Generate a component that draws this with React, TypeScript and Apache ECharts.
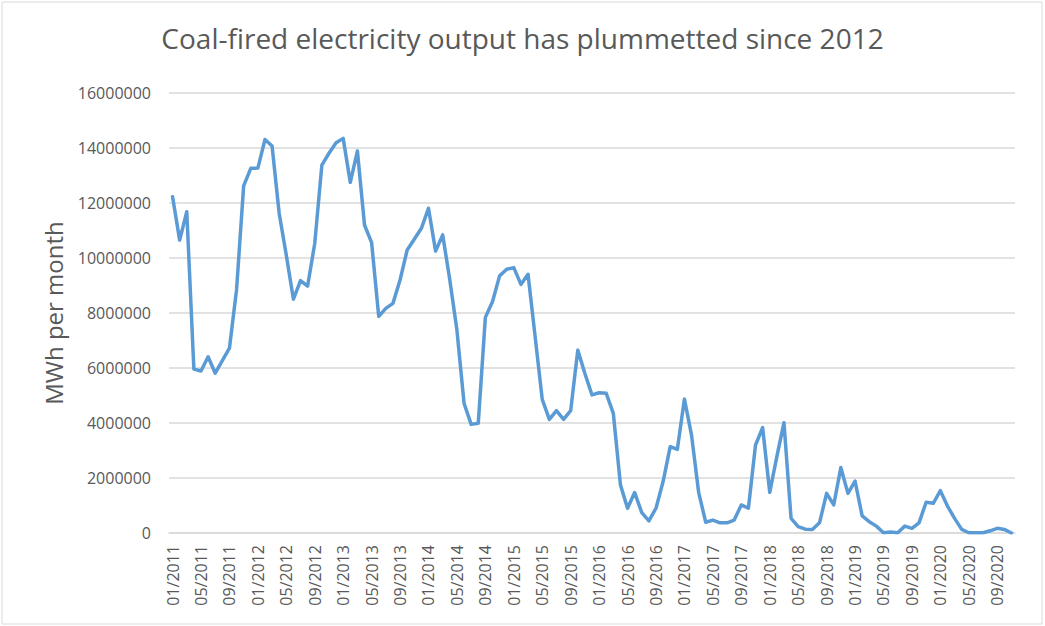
import React, { useEffect, useRef } from "react";
import * as echarts from "echarts";

const TITLE = "Coal-fired electricity output has plummetted since 2012";
const Y_NAME = "MWh per month";

const MONTHS = [
  "01/2011","02/2011","03/2011","04/2011","05/2011","06/2011","07/2011","08/2011","09/2011","10/2011","11/2011","12/2011",
  "01/2012","02/2012","03/2012","04/2012","05/2012","06/2012","07/2012","08/2012","09/2012","10/2012","11/2012","12/2012",
  "01/2013","02/2013","03/2013","04/2013","05/2013","06/2013","07/2013","08/2013","09/2013","10/2013","11/2013","12/2013",
  "01/2014","02/2014","03/2014","04/2014","05/2014","06/2014","07/2014","08/2014","09/2014","10/2014","11/2014","12/2014",
  "01/2015","02/2015","03/2015","04/2015","05/2015","06/2015","07/2015","08/2015","09/2015","10/2015","11/2015","12/2015",
  "01/2016","02/2016","03/2016","04/2016","05/2016","06/2016","07/2016","08/2016","09/2016","10/2016","11/2016","12/2016",
  "01/2017","02/2017","03/2017","04/2017","05/2017","06/2017","07/2017","08/2017","09/2017","10/2017","11/2017","12/2017",
  "01/2018","02/2018","03/2018","04/2018","05/2018","06/2018","07/2018","08/2018","09/2018","10/2018","11/2018","12/2018",
  "01/2019","02/2019","03/2019","04/2019","05/2019","06/2019","07/2019","08/2019","09/2019","10/2019","11/2019","12/2019",
  "01/2020","02/2020","03/2020","04/2020","05/2020","06/2020","07/2020","08/2020","09/2020","10/2020","11/2020",
];

const OUTPUT_MWH = [
  12230000, 10650000, 11680000, 5960000, 5890000, 6410000, 5810000, 6270000, 6720000, 8840000, 12620000, 13260000,
  13270000, 14310000, 14070000, 11620000, 10100000, 8500000, 9180000, 8980000, 10530000, 13380000, 13810000, 14190000,
  14350000, 12750000, 13890000, 11200000, 10560000, 7880000, 8170000, 8350000, 9200000, 10290000, 10680000, 11080000,
  11810000, 10250000, 10840000, 9200000, 7380000, 4720000, 3950000, 3990000, 7840000, 8410000, 9350000, 9590000,
  9650000, 9040000, 9410000, 7140000, 4860000, 4130000, 4450000, 4130000, 4450000, 6650000, 5800000, 5020000,
  5100000, 5080000, 4350000, 1750000, 900000, 1470000, 740000, 440000, 900000, 1870000, 3140000, 3040000,
  4870000, 3560000, 1480000, 390000, 470000, 370000, 370000, 470000, 1020000, 900000, 3200000, 3830000,
  1480000, 2780000, 4010000, 530000, 230000, 140000, 130000, 370000, 1440000, 1020000, 2380000, 1440000,
  1890000, 620000, 410000, 250000, 10000, 40000, 10000, 250000, 170000, 370000, 1120000, 1080000,
  1540000, 980000, 530000, 130000, 10000, 10000, 10000, 80000, 170000, 130000, 0,
];

const Y_MIN = 0;
const Y_MAX = 16000000;
const Y_STEP = 2000000;

const TEXT = "#595959";
const GRID = "#d9d9d9";
const LINE = "#5b9bd5";
const FONT = "'Open Sans', 'Noto Sans', sans-serif";

export default function App() {
  const ref = useRef<HTMLDivElement>(null);
  useEffect(() => {
    document.body.style.margin = "0";
    if (!ref.current) return;
    const chart = echarts.init(ref.current, null, { renderer: "svg" });
    chart.setOption({
      animation: false,
      backgroundColor: "#ffffff",
      textStyle: { fontFamily: FONT },
      title: {
        text: TITLE,
        left: "center",
        top: 19,
        textStyle: { color: TEXT, fontSize: 28, fontWeight: "normal", fontFamily: FONT },
      },
      graphic: [
        {
          type: "rect",
          shape: { x: 2, y: 2, width: 1040, height: 622 },
          style: { fill: "none", stroke: GRID, lineWidth: 1 },
          silent: true,
        },
      ],
      grid: { left: 169, right: 30, top: 93, bottom: 93, containLabel: false },
      xAxis: {
        type: "category",
        data: MONTHS,
        boundaryGap: true,
        axisLine: { show: true, lineStyle: { color: GRID, width: 1.5 } },
        axisTick: { show: false },
        axisLabel: {
          interval: 3,
          rotate: 90,
          color: TEXT,
          fontSize: 16,
          margin: 12,
          fontFamily: FONT,
        },
        splitLine: { show: false },
      },
      yAxis: {
        type: "value",
        min: Y_MIN,
        max: Y_MAX,
        interval: Y_STEP,
        name: Y_NAME,
        nameLocation: "middle",
        nameRotate: 90,
        nameGap: 104,
        nameTextStyle: { color: TEXT, fontSize: 24, fontFamily: FONT },
        axisLine: { show: false },
        axisTick: { show: false },
        axisLabel: {
          color: TEXT,
          fontSize: 16,
          margin: 18,
          fontFamily: FONT,
          formatter: (v: number) => String(v),
        },
        splitLine: { show: true, lineStyle: { color: GRID, width: 1.5 } },
      },
      series: [
        {
          type: "line",
          data: OUTPUT_MWH,
          symbol: "none",
          lineStyle: { color: LINE, width: 3.5, cap: "round", join: "round" },
          itemStyle: { color: LINE },
        },
      ],
    });
    return () => chart.dispose();
  }, []);
  return (
    <div
      ref={ref}
      style={{ position: "absolute", left: 0, top: 0, width: 1045, height: 626 }}
    />
  );
}
